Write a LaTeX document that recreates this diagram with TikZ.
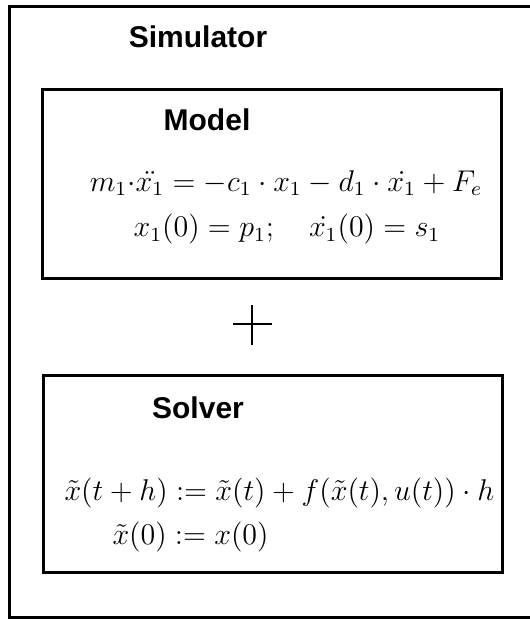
\documentclass[tikz,border=0pt]{standalone}
\usepackage{fontspec}
\usepackage{amsmath}
\newfontfamily\labelfont{Liberation Sans}
\usepackage{tikz}
\usetikzlibrary{positioning}

\begin{document}
\begin{tikzpicture}[
  x=0.4pt, y=-0.4pt,
  frame/.style={draw=black, line width=1.2pt},
  title/.style={font=\labelfont\bfseries\fontsize{12}{14}\selectfont, inner sep=0pt},
  eqn/.style={font=\fontsize{12}{14}\selectfont, inner sep=0pt}
]
  \clip (0,0) rectangle (530,619);

  % Outer simulator frame (runs off the right edge)
  \draw[frame] (9,7) rectangle (560,617);
  \node[title] (sim) at (198,37) {Simulator};

  % Model box
  \draw[frame] (42,90) rectangle (501,278);
  \node[title] (model) at (207,120) {Model};
  \node[eqn] (meq1) at (286,183) {$m_1{\cdot}\ddot{x_1} = -c_1\cdot x_1 - d_1\cdot\dot{x_1} + F_e$};
  \node[eqn] (meq2) at (287,229) {$x_1(0) = p_1;\quad \dot{x_1}(0) = s_1$};

  % Plus sign
  \coordinate (plus) at (252,324);
  \draw[line width=0.6pt] ([xshift=-19*0.4pt]plus) -- ([xshift=20*0.4pt]plus);
  \draw[line width=0.6pt] ([yshift=19*0.4pt]plus) -- ([yshift=-21*0.4pt]plus);

  % Solver box
  \draw[frame] (43,375) rectangle (502,572);
  \node[title] (solver) at (198,408) {Solver};
  \node[eqn, font=\fontsize{11.7}{14}\selectfont, anchor=west] (seq1) at (64,493) {$\tilde{x}(t+h) := \tilde{x}(t) + f(\tilde{x}(t),u(t))\cdot h$};
  \node[eqn, font=\fontsize{11.7}{14}\selectfont, anchor=west] (seq2) at (112,537) {$\tilde{x}(0) := x(0)$};
\end{tikzpicture}
\end{document}
